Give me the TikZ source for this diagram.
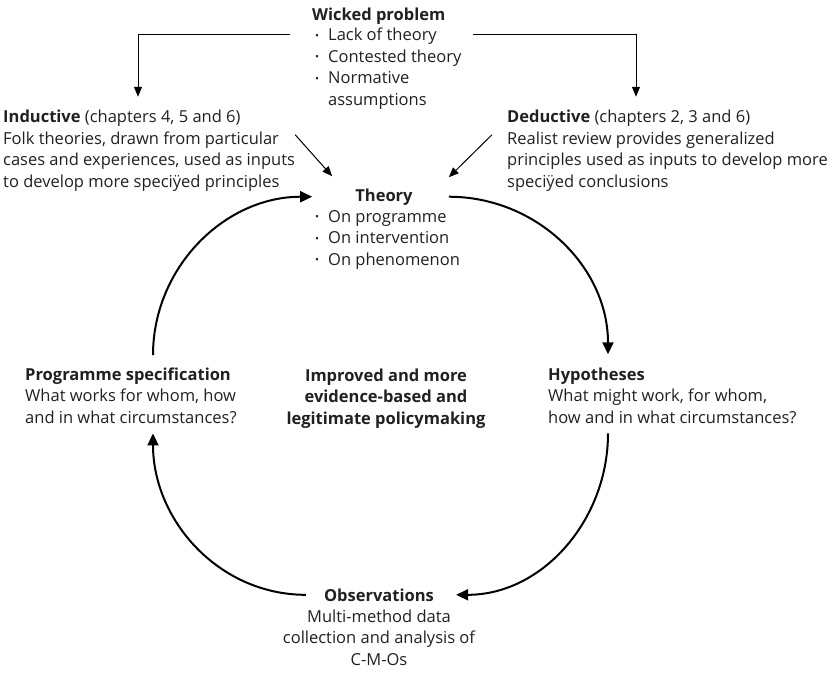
\documentclass[tikz,border=0pt]{standalone}
\usepackage{fontspec}
\setmainfont{Open Sans}
\usepackage{tikz}
\usetikzlibrary{arrows.meta}
\definecolor{ink}{HTML}{231F20}
\newcommand{\blt}{\makebox[13pt][l]{\raisebox{1.5pt}{\fontsize{10.5}{10.5}\selectfont\textbullet}}}

\begin{document}
\begin{tikzpicture}[x=1pt,y=-1pt,
  txt/.style={inner sep=0pt,text=ink,font=\fontsize{16.5}{21.5}\selectfont},
  blk/.style={txt,align=left,anchor=base west},
  bigarrow/.style={line width=2pt,-{Triangle[length=12pt,width=11pt]}},
  thinarrow/.style={line width=1pt,-{Triangle[length=10pt,width=8pt]}}]
\useasboundingbox (0,0) rectangle (833,673);

% top: the problem and the two routes to theory
\node[txt,anchor=base west] (wickedhead) at (312,20) {\textbf{Wicked problem}};
\node[blk] (wicked) at (315,105) {\blt Lack of theory\\ \blt Contested theory\\ \blt Normative\\ \hspace*{13pt}assumptions};
\node[blk] (inductive) at (3,187) {\textbf{Inductive} (chapters 4, 5 and 6)\\Folk theories, drawn from particular\\cases and experiences, used as inputs\\to develop more speci\"yed principles};
\node[blk] (deductive) at (507,187) {\textbf{Deductive} (chapters 2, 3 and 6)\\Realist review provides generalized\\principles used as inputs to develop more\\speci\"yed conclusions};

% the cycle
\node[txt,anchor=base] (theoryhead) at (384,201) {\textbf{Theory}};
\node[blk] (theory) at (315,265) {\blt On programme\\ \blt On intervention\\ \blt On phenomenon};
\node[blk] (progspec) at (25,423) {\textbf{Programme specification}\\What works for whom, how\\and in what circumstances?};
\node[txt,align=center,anchor=base,font=\fontsize{16.5}{21.5}\selectfont\bfseries] (policy) at (386,424) {Improved and more\\evidence-based and\\legitimate policymaking};
\node[blk] (hypotheses) at (548,423) {\textbf{Hypotheses}\\What might work, for whom,\\how and in what circumstances?};
\node[txt,anchor=base] (obshead) at (379,601) {\textbf{Observations}};
\node[txt,align=center,anchor=base] (obs) at (379,665) {Multi-method data\\collection and analysis of\\C-M-Os};

\draw[thinarrow] ([shift={(-25pt,-7pt)}]wicked.north west) -| ([shift={(135pt,13pt)}]inductive.north west);
\draw[thinarrow] ([shift={(11pt,-7pt)}]wicked.north east) -| ([shift={(129pt,13pt)}]deductive.north west);
\draw[thinarrow] ([shift={(0pt,-25pt)}]inductive.north east) -- ([shift={(-23pt,12pt)}]theoryhead.north west);
\draw[thinarrow] ([shift={(-15pt,-25pt)}]deductive.north west) -- ([shift={(36pt,11pt)}]theoryhead.north east);

\draw[bigarrow] ([shift={(128pt,12pt)}]progspec.north west) to[out=90,in=180] ([xshift=-43pt]theoryhead.west);
\draw[bigarrow] ([xshift=36pt]theoryhead.east) to[out=0,in=90] ([shift={(60pt,13pt)}]hypotheses.north west);
\draw[bigarrow] ([shift={(60pt,-10pt)}]hypotheses.south west) to[out=-90,in=0] ([xshift=22pt]obshead.east);
\draw[bigarrow] ([xshift=-18pt]obshead.west) to[out=180,in=-90] ([shift={(128pt,-10pt)}]progspec.south west);
\end{tikzpicture}
\end{document}
